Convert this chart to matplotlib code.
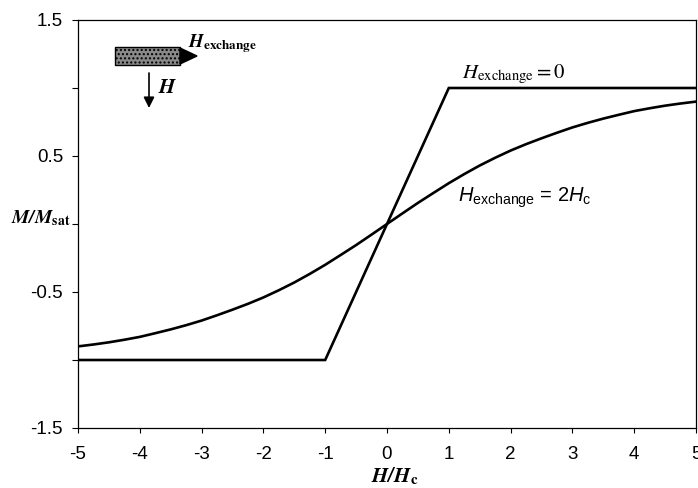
"""
Magnetisation curves M/Msat vs H/Hc, with and without exchange field.
"""

import matplotlib

matplotlib.use("Agg")
import matplotlib.pyplot as plt
from matplotlib.patches import Polygon, Rectangle

plt.rcParams["font.family"] = "Liberation Sans"
plt.rcParams["mathtext.fontset"] = "stix"
plt.rcParams["mathtext.rm"] = "Liberation Sans"
plt.rcParams["mathtext.it"] = "Liberation Sans:italic"
plt.rcParams["mathtext.bf"] = "Liberation Sans:bold"

W, H_PX = 698, 488

# H_exchange = 0 : clamped linear response
H_ZERO = [-5, -1, 1, 5]
M_ZERO = [-1.0, -1.0, 1.0, 1.0]

# H_exchange = 2 Hc : smooth curve
H_EXCH = [-5.0, -4.75, -4.5, -4.25, -4.0, -3.75, -3.5, -3.25, -3.0, -2.75,
          -2.5, -2.25, -2.0, -1.75, -1.5, -1.25, -1.0, -0.75, -0.5, -0.25,
          0.0, 0.25, 0.5, 0.75, 1.0, 1.25, 1.5, 1.75, 2.0, 2.25,
          2.5, 2.75, 3.0, 3.25, 3.5, 3.75, 4.0, 4.25, 4.5, 4.75, 5.0]
M_EXCH = [-0.90, -0.886, -0.87, -0.851, -0.83, -0.803, -0.775, -0.744, -0.71, -0.671,
          -0.63, -0.587, -0.54, -0.487, -0.43, -0.367, -0.30, -0.228, -0.155, -0.078,
          0.0, 0.078, 0.155, 0.228, 0.30, 0.367, 0.43, 0.487, 0.54, 0.587,
          0.63, 0.671, 0.71, 0.744, 0.775, 0.803, 0.83, 0.851, 0.87, 0.886, 0.90]

X_TICKS = list(range(-5, 6))
Y_TICKS = [-1.5, -1.0, -0.5, 0.0, 0.5, 1.0, 1.5]
Y_TICK_LABELS = ["-1.5", "", "-0.5", "", "0.5", "", "1.5"]


def px(x, y):
    # pixel position (from top-left) -> figure fraction
    return x / W, 1 - y / H_PX


fig = plt.figure(figsize=(W / 100, H_PX / 100), dpi=100)
ax = fig.add_axes([78 / W, 1 - 428 / H_PX, (696 - 78) / W, (428 - 20) / H_PX])

ax.plot(H_ZERO, M_ZERO, color="black", lw=1.9, solid_joinstyle="miter")
ax.plot(H_EXCH, M_EXCH, color="black", lw=1.9)

ax.set_xlim(-5, 5)
ax.set_ylim(-1.5, 1.5)
ax.set_xticks(X_TICKS)
ax.set_xticklabels([str(t) for t in X_TICKS])
ax.set_yticks(Y_TICKS)
ax.set_yticklabels(Y_TICK_LABELS)
ax.tick_params(direction="out", width=0.8, labelsize=13.5)
ax.tick_params(axis="x", length=3.6, pad=9.5)
ax.tick_params(axis="y", length=4.3, pad=6.5)
for s in ax.spines.values():
    s.set_linewidth(0.9)

# curve labels
ax.text(*px(462, 78), r"$H_{\mathrm{exchange}} = 0$", transform=fig.transFigure,
        fontsize=15, va="baseline", ha="left", math_fontfamily="stix")
ax.text(*px(458, 202), r"$H_{\mathrm{exchange}}$ = 2$H_{\mathrm{c}}$",
        transform=fig.transFigure, fontsize=14.5, va="baseline", ha="left",
        math_fontfamily="custom")

# axis labels
fig.text(*px(11, 223), r"$\mathbfit{M/M}_{\mathbf{sat}}$", fontsize=14,
         va="baseline", ha="left", math_fontfamily="stix")
fig.text(*px(395, 482), r"$\mathbfit{H/H}_{\mathbf{c}}$", fontsize=15,
         va="baseline", ha="center", math_fontfamily="stix")

# inset sketch: exchange field arrow and applied field arrow
x0, y0 = px(115, 65)
x1, y1 = px(180, 47)
fig.add_artist(Rectangle((x0, y0), x1 - x0, y1 - y0, transform=fig.transFigure,
                         facecolor="#8a8a8a", edgecolor="black", hatch="....",
                         lw=1.0))
fig.add_artist(Polygon([px(180, 48), px(180, 64), px(197, 56)], closed=True,
                       transform=fig.transFigure, facecolor="black",
                       edgecolor="black"))
fig.text(*px(188, 47), r"$\mathbfit{H}_{\mathbf{exchange}}$", fontsize=13.5,
         va="baseline", ha="left", math_fontfamily="stix")

ax.annotate("", xy=px(149, 108), xytext=px(149, 73), xycoords="figure fraction",
            textcoords="figure fraction",
            arrowprops=dict(arrowstyle="-|>", color="black", lw=1.2,
                            mutation_scale=16, shrinkA=0, shrinkB=0))
fig.text(*px(158, 93), r"$\mathbfit{H}$", fontsize=15, va="baseline",
         ha="left", math_fontfamily="stix")

fig.savefig("out.png", dpi=100)
